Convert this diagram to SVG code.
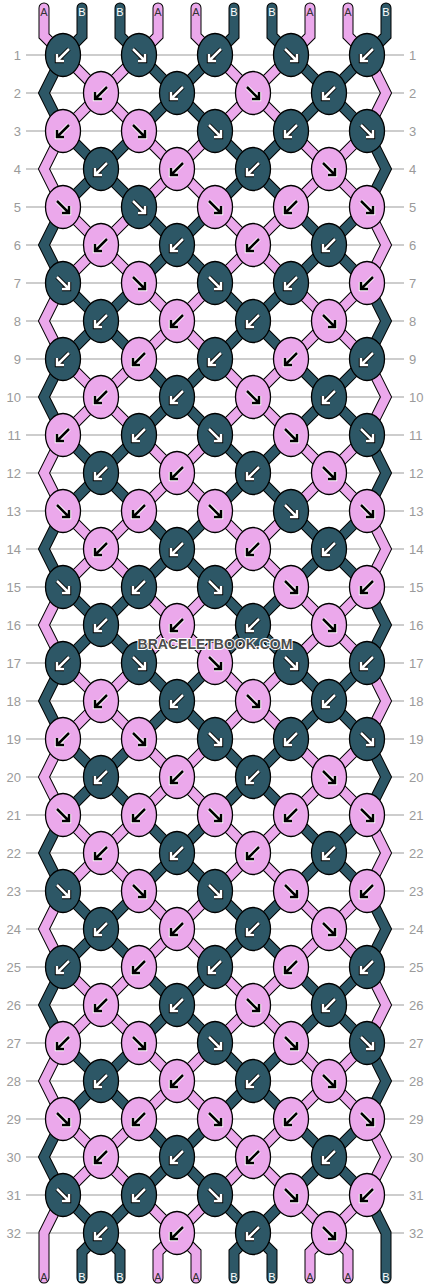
<svg xmlns="http://www.w3.org/2000/svg" xmlns:xlink="http://www.w3.org/1999/xlink" width="430" height="1288" viewBox="0 0 430 1288">
<style>
.grid line{stroke:#bdbdbd;stroke-width:1.5}
.num text{font-family:"Liberation Sans",Arial,sans-serif;font-size:13px;fill:#9a9a9a}
.num .l{text-anchor:end}
.num .r{text-anchor:start}
.th polyline{fill:none;stroke-linejoin:miter;stroke-linecap:round}
.th .o{stroke:#000;stroke-width:11}
.th .ta{stroke:#eba8eb;stroke-width:9}
.th .tb{stroke:#2d5766;stroke-width:9}
.knots ellipse{stroke:#000;stroke-width:1.3}
.d{fill:#2d5766}
.p{fill:#eba8eb}
.lab text{font-family:"Liberation Sans",Arial,sans-serif;font-size:11px;text-anchor:middle}
.lab .a{fill:#333}
.lab .b{fill:#fff}
.wm{font-family:"Liberation Sans",Arial,sans-serif;font-size:14px;font-weight:bold;fill:#4d4d4d;stroke:#fff;stroke-width:2;paint-order:stroke;text-anchor:middle}
</style>
<defs>
<g id="Lw" fill="none" stroke-linecap="butt" stroke-linejoin="miter"><path d="M6,-6 L-5,5 M-6,-1 V6 H1" stroke="#000" stroke-width="4.4"/><path d="M6,-6 L-5,5 M-6,-1 V6 H1" stroke="#fff" stroke-width="2.5"/></g>
<g id="Lk" fill="none" stroke-linecap="butt" stroke-linejoin="miter"><path d="M6,-6 L-5,5 M-6,-1 V6 H1" stroke="#fff" stroke-width="4.4"/><path d="M6,-6 L-5,5 M-6,-1 V6 H1" stroke="#000" stroke-width="2.5"/></g>
<g id="Rw" fill="none" stroke-linecap="butt" stroke-linejoin="miter"><path d="M-6,-6 L5,5 M6,-1 V6 H-1" stroke="#000" stroke-width="4.4"/><path d="M-6,-6 L5,5 M6,-1 V6 H-1" stroke="#fff" stroke-width="2.5"/></g>
<g id="Rk" fill="none" stroke-linecap="butt" stroke-linejoin="miter"><path d="M-6,-6 L5,5 M6,-1 V6 H-1" stroke="#fff" stroke-width="4.4"/><path d="M-6,-6 L5,5 M6,-1 V6 H-1" stroke="#000" stroke-width="2.5"/></g>
</defs>
<rect width="430" height="1288" fill="#fff"/>
<g class="grid">
<line x1="26" x2="404" y1="55" y2="55"/><line x1="26" x2="404" y1="93" y2="93"/><line x1="26" x2="404" y1="131" y2="131"/><line x1="26" x2="404" y1="169" y2="169"/><line x1="26" x2="404" y1="207" y2="207"/><line x1="26" x2="404" y1="245" y2="245"/><line x1="26" x2="404" y1="283" y2="283"/><line x1="26" x2="404" y1="321" y2="321"/><line x1="26" x2="404" y1="359" y2="359"/><line x1="26" x2="404" y1="397" y2="397"/><line x1="26" x2="404" y1="435" y2="435"/><line x1="26" x2="404" y1="473" y2="473"/><line x1="26" x2="404" y1="511" y2="511"/><line x1="26" x2="404" y1="549" y2="549"/><line x1="26" x2="404" y1="587" y2="587"/><line x1="26" x2="404" y1="625" y2="625"/><line x1="26" x2="404" y1="663" y2="663"/><line x1="26" x2="404" y1="701" y2="701"/><line x1="26" x2="404" y1="739" y2="739"/><line x1="26" x2="404" y1="777" y2="777"/><line x1="26" x2="404" y1="815" y2="815"/><line x1="26" x2="404" y1="853" y2="853"/><line x1="26" x2="404" y1="891" y2="891"/><line x1="26" x2="404" y1="929" y2="929"/><line x1="26" x2="404" y1="967" y2="967"/><line x1="26" x2="404" y1="1005" y2="1005"/><line x1="26" x2="404" y1="1043" y2="1043"/><line x1="26" x2="404" y1="1081" y2="1081"/><line x1="26" x2="404" y1="1119" y2="1119"/><line x1="26" x2="404" y1="1157" y2="1157"/><line x1="26" x2="404" y1="1195" y2="1195"/><line x1="26" x2="404" y1="1233" y2="1233"/>
</g>
<g class="num">
<text class="l" x="21" y="59.5">1</text><text class="r" x="409" y="59.5">1</text>
<text class="l" x="21" y="97.5">2</text><text class="r" x="409" y="97.5">2</text>
<text class="l" x="21" y="135.5">3</text><text class="r" x="409" y="135.5">3</text>
<text class="l" x="21" y="173.5">4</text><text class="r" x="409" y="173.5">4</text>
<text class="l" x="21" y="211.5">5</text><text class="r" x="409" y="211.5">5</text>
<text class="l" x="21" y="249.5">6</text><text class="r" x="409" y="249.5">6</text>
<text class="l" x="21" y="287.5">7</text><text class="r" x="409" y="287.5">7</text>
<text class="l" x="21" y="325.5">8</text><text class="r" x="409" y="325.5">8</text>
<text class="l" x="21" y="363.5">9</text><text class="r" x="409" y="363.5">9</text>
<text class="l" x="21" y="401.5">10</text><text class="r" x="409" y="401.5">10</text>
<text class="l" x="21" y="439.5">11</text><text class="r" x="409" y="439.5">11</text>
<text class="l" x="21" y="477.5">12</text><text class="r" x="409" y="477.5">12</text>
<text class="l" x="21" y="515.5">13</text><text class="r" x="409" y="515.5">13</text>
<text class="l" x="21" y="553.5">14</text><text class="r" x="409" y="553.5">14</text>
<text class="l" x="21" y="591.5">15</text><text class="r" x="409" y="591.5">15</text>
<text class="l" x="21" y="629.5">16</text><text class="r" x="409" y="629.5">16</text>
<text class="l" x="21" y="667.5">17</text><text class="r" x="409" y="667.5">17</text>
<text class="l" x="21" y="705.5">18</text><text class="r" x="409" y="705.5">18</text>
<text class="l" x="21" y="743.5">19</text><text class="r" x="409" y="743.5">19</text>
<text class="l" x="21" y="781.5">20</text><text class="r" x="409" y="781.5">20</text>
<text class="l" x="21" y="819.5">21</text><text class="r" x="409" y="819.5">21</text>
<text class="l" x="21" y="857.5">22</text><text class="r" x="409" y="857.5">22</text>
<text class="l" x="21" y="895.5">23</text><text class="r" x="409" y="895.5">23</text>
<text class="l" x="21" y="933.5">24</text><text class="r" x="409" y="933.5">24</text>
<text class="l" x="21" y="971.5">25</text><text class="r" x="409" y="971.5">25</text>
<text class="l" x="21" y="1009.5">26</text><text class="r" x="409" y="1009.5">26</text>
<text class="l" x="21" y="1047.5">27</text><text class="r" x="409" y="1047.5">27</text>
<text class="l" x="21" y="1085.5">28</text><text class="r" x="409" y="1085.5">28</text>
<text class="l" x="21" y="1123.5">29</text><text class="r" x="409" y="1123.5">29</text>
<text class="l" x="21" y="1161.5">30</text><text class="r" x="409" y="1161.5">30</text>
<text class="l" x="21" y="1199.5">31</text><text class="r" x="409" y="1199.5">31</text>
<text class="l" x="21" y="1237.5">32</text><text class="r" x="409" y="1237.5">32</text>
</g>
<g id="connectors" class="th">
<polyline class="o" points="44,8 44,36 367,359 386,397 367,435 63,739 44,777 63,815 367,1119 386,1157 367,1195 310,1252 310,1278"/>
<polyline class="o" points="82,8 82,36 63,55 44,93 63,131 367,435 386,473 367,511 63,815 44,853 63,891 367,1195 386,1233 386,1278"/>
<polyline class="o" points="120,8 120,36 367,283 386,321 367,359 63,663 44,701 63,739 367,1043 386,1081 367,1119 234,1252 234,1278"/>
<polyline class="o" points="158,8 158,36 63,131 44,169 63,207 367,511 386,549 367,587 63,891 44,929 63,967 348,1252 348,1278"/>
<polyline class="o" points="196,8 196,36 367,207 386,245 367,283 63,587 44,625 63,663 367,967 386,1005 367,1043 158,1252 158,1278"/>
<polyline class="o" points="234,8 234,36 63,207 44,245 63,283 367,587 386,625 367,663 63,967 44,1005 63,1043 272,1252 272,1278"/>
<polyline class="o" points="272,8 272,36 367,131 386,169 367,207 63,511 44,549 63,587 367,891 386,929 367,967 82,1252 82,1278"/>
<polyline class="o" points="310,8 310,36 63,283 44,321 63,359 367,663 386,701 367,739 63,1043 44,1081 63,1119 196,1252 196,1278"/>
<polyline class="o" points="348,8 348,36 367,55 386,93 367,131 63,435 44,473 63,511 367,815 386,853 367,891 63,1195 44,1233 44,1278"/>
<polyline class="o" points="386,8 386,36 63,359 44,397 63,435 367,739 386,777 367,815 63,1119 44,1157 63,1195 120,1252 120,1278"/>
<polyline class="ta" points="44,8 44,36 367,359 386,397 367,435 63,739 44,777 63,815 367,1119 386,1157 367,1195 310,1252 310,1278"/>
<polyline class="tb" points="82,8 82,36 63,55 44,93 63,131 367,435 386,473 367,511 63,815 44,853 63,891 367,1195 386,1233 386,1278"/>
<polyline class="tb" points="120,8 120,36 367,283 386,321 367,359 63,663 44,701 63,739 367,1043 386,1081 367,1119 234,1252 234,1278"/>
<polyline class="ta" points="158,8 158,36 63,131 44,169 63,207 367,511 386,549 367,587 63,891 44,929 63,967 348,1252 348,1278"/>
<polyline class="ta" points="196,8 196,36 367,207 386,245 367,283 63,587 44,625 63,663 367,967 386,1005 367,1043 158,1252 158,1278"/>
<polyline class="tb" points="234,8 234,36 63,207 44,245 63,283 367,587 386,625 367,663 63,967 44,1005 63,1043 272,1252 272,1278"/>
<polyline class="tb" points="272,8 272,36 367,131 386,169 367,207 63,511 44,549 63,587 367,891 386,929 367,967 82,1252 82,1278"/>
<polyline class="ta" points="310,8 310,36 63,283 44,321 63,359 367,663 386,701 367,739 63,1043 44,1081 63,1119 196,1252 196,1278"/>
<polyline class="ta" points="348,8 348,36 367,55 386,93 367,131 63,435 44,473 63,511 367,815 386,853 367,891 63,1195 44,1233 44,1278"/>
<polyline class="tb" points="386,8 386,36 63,359 44,397 63,435 367,739 386,777 367,815 63,1119 44,1157 63,1195 120,1252 120,1278"/>
</g>
<g class="lab">
<text class="a" x="44" y="16">A</text><text class="b" x="82" y="16">B</text><text class="b" x="120" y="16">B</text><text class="a" x="158" y="16">A</text><text class="a" x="196" y="16">A</text><text class="b" x="234" y="16">B</text><text class="b" x="272" y="16">B</text><text class="a" x="310" y="16">A</text><text class="a" x="348" y="16">A</text><text class="b" x="386" y="16">B</text>
<text class="a" x="44" y="1281">A</text><text class="b" x="82" y="1281">B</text><text class="b" x="120" y="1281">B</text><text class="a" x="158" y="1281">A</text><text class="a" x="196" y="1281">A</text><text class="b" x="234" y="1281">B</text><text class="b" x="272" y="1281">B</text><text class="a" x="310" y="1281">A</text><text class="a" x="348" y="1281">A</text><text class="b" x="386" y="1281">B</text>
</g>
<g class="knots">
<g id="k1_1"><ellipse class="d" cx="63" cy="55" rx="17.5" ry="21.5"/><use href="#Lw" x="63" y="55"/></g>
<g id="k1_2"><ellipse class="d" cx="139" cy="55" rx="17.5" ry="21.5"/><use href="#Rw" x="139" y="55"/></g>
<g id="k1_3"><ellipse class="d" cx="215" cy="55" rx="17.5" ry="21.5"/><use href="#Lw" x="215" y="55"/></g>
<g id="k1_4"><ellipse class="d" cx="291" cy="55" rx="17.5" ry="21.5"/><use href="#Rw" x="291" y="55"/></g>
<g id="k1_5"><ellipse class="d" cx="367" cy="55" rx="17.5" ry="21.5"/><use href="#Lw" x="367" y="55"/></g>
<g id="k2_1"><ellipse class="p" cx="101" cy="93" rx="17.5" ry="21.5"/><use href="#Lk" x="101" y="93"/></g>
<g id="k2_2"><ellipse class="d" cx="177" cy="93" rx="17.5" ry="21.5"/><use href="#Lw" x="177" y="93"/></g>
<g id="k2_3"><ellipse class="p" cx="253" cy="93" rx="17.5" ry="21.5"/><use href="#Rk" x="253" y="93"/></g>
<g id="k2_4"><ellipse class="d" cx="329" cy="93" rx="17.5" ry="21.5"/><use href="#Lw" x="329" y="93"/></g>
<g id="k3_1"><ellipse class="p" cx="63" cy="131" rx="17.5" ry="21.5"/><use href="#Lk" x="63" y="131"/></g>
<g id="k3_2"><ellipse class="p" cx="139" cy="131" rx="17.5" ry="21.5"/><use href="#Rk" x="139" y="131"/></g>
<g id="k3_3"><ellipse class="d" cx="215" cy="131" rx="17.5" ry="21.5"/><use href="#Rw" x="215" y="131"/></g>
<g id="k3_4"><ellipse class="d" cx="291" cy="131" rx="17.5" ry="21.5"/><use href="#Lw" x="291" y="131"/></g>
<g id="k3_5"><ellipse class="d" cx="367" cy="131" rx="17.5" ry="21.5"/><use href="#Rw" x="367" y="131"/></g>
<g id="k4_1"><ellipse class="d" cx="101" cy="169" rx="17.5" ry="21.5"/><use href="#Lw" x="101" y="169"/></g>
<g id="k4_2"><ellipse class="p" cx="177" cy="169" rx="17.5" ry="21.5"/><use href="#Lk" x="177" y="169"/></g>
<g id="k4_3"><ellipse class="d" cx="253" cy="169" rx="17.5" ry="21.5"/><use href="#Lw" x="253" y="169"/></g>
<g id="k4_4"><ellipse class="p" cx="329" cy="169" rx="17.5" ry="21.5"/><use href="#Rk" x="329" y="169"/></g>
<g id="k5_1"><ellipse class="p" cx="63" cy="207" rx="17.5" ry="21.5"/><use href="#Rk" x="63" y="207"/></g>
<g id="k5_2"><ellipse class="d" cx="139" cy="207" rx="17.5" ry="21.5"/><use href="#Rw" x="139" y="207"/></g>
<g id="k5_3"><ellipse class="p" cx="215" cy="207" rx="17.5" ry="21.5"/><use href="#Rk" x="215" y="207"/></g>
<g id="k5_4"><ellipse class="p" cx="291" cy="207" rx="17.5" ry="21.5"/><use href="#Lk" x="291" y="207"/></g>
<g id="k5_5"><ellipse class="p" cx="367" cy="207" rx="17.5" ry="21.5"/><use href="#Rk" x="367" y="207"/></g>
<g id="k6_1"><ellipse class="p" cx="101" cy="245" rx="17.5" ry="21.5"/><use href="#Lk" x="101" y="245"/></g>
<g id="k6_2"><ellipse class="d" cx="177" cy="245" rx="17.5" ry="21.5"/><use href="#Lw" x="177" y="245"/></g>
<g id="k6_3"><ellipse class="p" cx="253" cy="245" rx="17.5" ry="21.5"/><use href="#Lk" x="253" y="245"/></g>
<g id="k6_4"><ellipse class="d" cx="329" cy="245" rx="17.5" ry="21.5"/><use href="#Lw" x="329" y="245"/></g>
<g id="k7_1"><ellipse class="d" cx="63" cy="283" rx="17.5" ry="21.5"/><use href="#Rw" x="63" y="283"/></g>
<g id="k7_2"><ellipse class="p" cx="139" cy="283" rx="17.5" ry="21.5"/><use href="#Rk" x="139" y="283"/></g>
<g id="k7_3"><ellipse class="d" cx="215" cy="283" rx="17.5" ry="21.5"/><use href="#Rw" x="215" y="283"/></g>
<g id="k7_4"><ellipse class="d" cx="291" cy="283" rx="17.5" ry="21.5"/><use href="#Lw" x="291" y="283"/></g>
<g id="k7_5"><ellipse class="p" cx="367" cy="283" rx="17.5" ry="21.5"/><use href="#Lk" x="367" y="283"/></g>
<g id="k8_1"><ellipse class="d" cx="101" cy="321" rx="17.5" ry="21.5"/><use href="#Lw" x="101" y="321"/></g>
<g id="k8_2"><ellipse class="p" cx="177" cy="321" rx="17.5" ry="21.5"/><use href="#Lk" x="177" y="321"/></g>
<g id="k8_3"><ellipse class="d" cx="253" cy="321" rx="17.5" ry="21.5"/><use href="#Lw" x="253" y="321"/></g>
<g id="k8_4"><ellipse class="p" cx="329" cy="321" rx="17.5" ry="21.5"/><use href="#Rk" x="329" y="321"/></g>
<g id="k9_1"><ellipse class="d" cx="63" cy="359" rx="17.5" ry="21.5"/><use href="#Lw" x="63" y="359"/></g>
<g id="k9_2"><ellipse class="p" cx="139" cy="359" rx="17.5" ry="21.5"/><use href="#Lk" x="139" y="359"/></g>
<g id="k9_3"><ellipse class="d" cx="215" cy="359" rx="17.5" ry="21.5"/><use href="#Lw" x="215" y="359"/></g>
<g id="k9_4"><ellipse class="p" cx="291" cy="359" rx="17.5" ry="21.5"/><use href="#Lk" x="291" y="359"/></g>
<g id="k9_5"><ellipse class="d" cx="367" cy="359" rx="17.5" ry="21.5"/><use href="#Lw" x="367" y="359"/></g>
<g id="k10_1"><ellipse class="p" cx="101" cy="397" rx="17.5" ry="21.5"/><use href="#Lk" x="101" y="397"/></g>
<g id="k10_2"><ellipse class="d" cx="177" cy="397" rx="17.5" ry="21.5"/><use href="#Lw" x="177" y="397"/></g>
<g id="k10_3"><ellipse class="p" cx="253" cy="397" rx="17.5" ry="21.5"/><use href="#Rk" x="253" y="397"/></g>
<g id="k10_4"><ellipse class="d" cx="329" cy="397" rx="17.5" ry="21.5"/><use href="#Lw" x="329" y="397"/></g>
<g id="k11_1"><ellipse class="p" cx="63" cy="435" rx="17.5" ry="21.5"/><use href="#Lk" x="63" y="435"/></g>
<g id="k11_2"><ellipse class="d" cx="139" cy="435" rx="17.5" ry="21.5"/><use href="#Lw" x="139" y="435"/></g>
<g id="k11_3"><ellipse class="d" cx="215" cy="435" rx="17.5" ry="21.5"/><use href="#Rw" x="215" y="435"/></g>
<g id="k11_4"><ellipse class="p" cx="291" cy="435" rx="17.5" ry="21.5"/><use href="#Rk" x="291" y="435"/></g>
<g id="k11_5"><ellipse class="d" cx="367" cy="435" rx="17.5" ry="21.5"/><use href="#Rw" x="367" y="435"/></g>
<g id="k12_1"><ellipse class="d" cx="101" cy="473" rx="17.5" ry="21.5"/><use href="#Lw" x="101" y="473"/></g>
<g id="k12_2"><ellipse class="p" cx="177" cy="473" rx="17.5" ry="21.5"/><use href="#Lk" x="177" y="473"/></g>
<g id="k12_3"><ellipse class="d" cx="253" cy="473" rx="17.5" ry="21.5"/><use href="#Lw" x="253" y="473"/></g>
<g id="k12_4"><ellipse class="p" cx="329" cy="473" rx="17.5" ry="21.5"/><use href="#Rk" x="329" y="473"/></g>
<g id="k13_1"><ellipse class="p" cx="63" cy="511" rx="17.5" ry="21.5"/><use href="#Rk" x="63" y="511"/></g>
<g id="k13_2"><ellipse class="p" cx="139" cy="511" rx="17.5" ry="21.5"/><use href="#Lk" x="139" y="511"/></g>
<g id="k13_3"><ellipse class="p" cx="215" cy="511" rx="17.5" ry="21.5"/><use href="#Rk" x="215" y="511"/></g>
<g id="k13_4"><ellipse class="d" cx="291" cy="511" rx="17.5" ry="21.5"/><use href="#Rw" x="291" y="511"/></g>
<g id="k13_5"><ellipse class="p" cx="367" cy="511" rx="17.5" ry="21.5"/><use href="#Rk" x="367" y="511"/></g>
<g id="k14_1"><ellipse class="p" cx="101" cy="549" rx="17.5" ry="21.5"/><use href="#Lk" x="101" y="549"/></g>
<g id="k14_2"><ellipse class="d" cx="177" cy="549" rx="17.5" ry="21.5"/><use href="#Lw" x="177" y="549"/></g>
<g id="k14_3"><ellipse class="p" cx="253" cy="549" rx="17.5" ry="21.5"/><use href="#Lk" x="253" y="549"/></g>
<g id="k14_4"><ellipse class="d" cx="329" cy="549" rx="17.5" ry="21.5"/><use href="#Lw" x="329" y="549"/></g>
<g id="k15_1"><ellipse class="d" cx="63" cy="587" rx="17.5" ry="21.5"/><use href="#Rw" x="63" y="587"/></g>
<g id="k15_2"><ellipse class="d" cx="139" cy="587" rx="17.5" ry="21.5"/><use href="#Lw" x="139" y="587"/></g>
<g id="k15_3"><ellipse class="d" cx="215" cy="587" rx="17.5" ry="21.5"/><use href="#Rw" x="215" y="587"/></g>
<g id="k15_4"><ellipse class="p" cx="291" cy="587" rx="17.5" ry="21.5"/><use href="#Rk" x="291" y="587"/></g>
<g id="k15_5"><ellipse class="p" cx="367" cy="587" rx="17.5" ry="21.5"/><use href="#Lk" x="367" y="587"/></g>
<g id="k16_1"><ellipse class="d" cx="101" cy="625" rx="17.5" ry="21.5"/><use href="#Lw" x="101" y="625"/></g>
<g id="k16_2"><ellipse class="p" cx="177" cy="625" rx="17.5" ry="21.5"/><use href="#Lk" x="177" y="625"/></g>
<g id="k16_3"><ellipse class="d" cx="253" cy="625" rx="17.5" ry="21.5"/><use href="#Lw" x="253" y="625"/></g>
<g id="k16_4"><ellipse class="p" cx="329" cy="625" rx="17.5" ry="21.5"/><use href="#Rk" x="329" y="625"/></g>
<g id="k17_1"><ellipse class="d" cx="63" cy="663" rx="17.5" ry="21.5"/><use href="#Lw" x="63" y="663"/></g>
<g id="k17_2"><ellipse class="d" cx="139" cy="663" rx="17.5" ry="21.5"/><use href="#Rw" x="139" y="663"/></g>
<g id="k17_3"><ellipse class="p" cx="215" cy="663" rx="17.5" ry="21.5"/><use href="#Rk" x="215" y="663"/></g>
<g id="k17_4"><ellipse class="d" cx="291" cy="663" rx="17.5" ry="21.5"/><use href="#Rw" x="291" y="663"/></g>
<g id="k17_5"><ellipse class="d" cx="367" cy="663" rx="17.5" ry="21.5"/><use href="#Lw" x="367" y="663"/></g>
<g id="k18_1"><ellipse class="p" cx="101" cy="701" rx="17.5" ry="21.5"/><use href="#Lk" x="101" y="701"/></g>
<g id="k18_2"><ellipse class="d" cx="177" cy="701" rx="17.5" ry="21.5"/><use href="#Lw" x="177" y="701"/></g>
<g id="k18_3"><ellipse class="p" cx="253" cy="701" rx="17.5" ry="21.5"/><use href="#Rk" x="253" y="701"/></g>
<g id="k18_4"><ellipse class="d" cx="329" cy="701" rx="17.5" ry="21.5"/><use href="#Lw" x="329" y="701"/></g>
<g id="k19_1"><ellipse class="p" cx="63" cy="739" rx="17.5" ry="21.5"/><use href="#Lk" x="63" y="739"/></g>
<g id="k19_2"><ellipse class="p" cx="139" cy="739" rx="17.5" ry="21.5"/><use href="#Rk" x="139" y="739"/></g>
<g id="k19_3"><ellipse class="d" cx="215" cy="739" rx="17.5" ry="21.5"/><use href="#Rw" x="215" y="739"/></g>
<g id="k19_4"><ellipse class="d" cx="291" cy="739" rx="17.5" ry="21.5"/><use href="#Lw" x="291" y="739"/></g>
<g id="k19_5"><ellipse class="d" cx="367" cy="739" rx="17.5" ry="21.5"/><use href="#Rw" x="367" y="739"/></g>
<g id="k20_1"><ellipse class="d" cx="101" cy="777" rx="17.5" ry="21.5"/><use href="#Lw" x="101" y="777"/></g>
<g id="k20_2"><ellipse class="p" cx="177" cy="777" rx="17.5" ry="21.5"/><use href="#Lk" x="177" y="777"/></g>
<g id="k20_3"><ellipse class="d" cx="253" cy="777" rx="17.5" ry="21.5"/><use href="#Lw" x="253" y="777"/></g>
<g id="k20_4"><ellipse class="p" cx="329" cy="777" rx="17.5" ry="21.5"/><use href="#Rk" x="329" y="777"/></g>
<g id="k21_1"><ellipse class="p" cx="63" cy="815" rx="17.5" ry="21.5"/><use href="#Rk" x="63" y="815"/></g>
<g id="k21_2"><ellipse class="p" cx="139" cy="815" rx="17.5" ry="21.5"/><use href="#Lk" x="139" y="815"/></g>
<g id="k21_3"><ellipse class="p" cx="215" cy="815" rx="17.5" ry="21.5"/><use href="#Rk" x="215" y="815"/></g>
<g id="k21_4"><ellipse class="p" cx="291" cy="815" rx="17.5" ry="21.5"/><use href="#Lk" x="291" y="815"/></g>
<g id="k21_5"><ellipse class="p" cx="367" cy="815" rx="17.5" ry="21.5"/><use href="#Rk" x="367" y="815"/></g>
<g id="k22_1"><ellipse class="p" cx="101" cy="853" rx="17.5" ry="21.5"/><use href="#Lk" x="101" y="853"/></g>
<g id="k22_2"><ellipse class="d" cx="177" cy="853" rx="17.5" ry="21.5"/><use href="#Lw" x="177" y="853"/></g>
<g id="k22_3"><ellipse class="p" cx="253" cy="853" rx="17.5" ry="21.5"/><use href="#Lk" x="253" y="853"/></g>
<g id="k22_4"><ellipse class="d" cx="329" cy="853" rx="17.5" ry="21.5"/><use href="#Lw" x="329" y="853"/></g>
<g id="k23_1"><ellipse class="d" cx="63" cy="891" rx="17.5" ry="21.5"/><use href="#Rw" x="63" y="891"/></g>
<g id="k23_2"><ellipse class="p" cx="139" cy="891" rx="17.5" ry="21.5"/><use href="#Rk" x="139" y="891"/></g>
<g id="k23_3"><ellipse class="d" cx="215" cy="891" rx="17.5" ry="21.5"/><use href="#Rw" x="215" y="891"/></g>
<g id="k23_4"><ellipse class="p" cx="291" cy="891" rx="17.5" ry="21.5"/><use href="#Rk" x="291" y="891"/></g>
<g id="k23_5"><ellipse class="p" cx="367" cy="891" rx="17.5" ry="21.5"/><use href="#Lk" x="367" y="891"/></g>
<g id="k24_1"><ellipse class="d" cx="101" cy="929" rx="17.5" ry="21.5"/><use href="#Lw" x="101" y="929"/></g>
<g id="k24_2"><ellipse class="p" cx="177" cy="929" rx="17.5" ry="21.5"/><use href="#Lk" x="177" y="929"/></g>
<g id="k24_3"><ellipse class="d" cx="253" cy="929" rx="17.5" ry="21.5"/><use href="#Lw" x="253" y="929"/></g>
<g id="k24_4"><ellipse class="p" cx="329" cy="929" rx="17.5" ry="21.5"/><use href="#Rk" x="329" y="929"/></g>
<g id="k25_1"><ellipse class="d" cx="63" cy="967" rx="17.5" ry="21.5"/><use href="#Lw" x="63" y="967"/></g>
<g id="k25_2"><ellipse class="p" cx="139" cy="967" rx="17.5" ry="21.5"/><use href="#Lk" x="139" y="967"/></g>
<g id="k25_3"><ellipse class="d" cx="215" cy="967" rx="17.5" ry="21.5"/><use href="#Lw" x="215" y="967"/></g>
<g id="k25_4"><ellipse class="p" cx="291" cy="967" rx="17.5" ry="21.5"/><use href="#Lk" x="291" y="967"/></g>
<g id="k25_5"><ellipse class="d" cx="367" cy="967" rx="17.5" ry="21.5"/><use href="#Lw" x="367" y="967"/></g>
<g id="k26_1"><ellipse class="p" cx="101" cy="1005" rx="17.5" ry="21.5"/><use href="#Lk" x="101" y="1005"/></g>
<g id="k26_2"><ellipse class="d" cx="177" cy="1005" rx="17.5" ry="21.5"/><use href="#Lw" x="177" y="1005"/></g>
<g id="k26_3"><ellipse class="p" cx="253" cy="1005" rx="17.5" ry="21.5"/><use href="#Rk" x="253" y="1005"/></g>
<g id="k26_4"><ellipse class="d" cx="329" cy="1005" rx="17.5" ry="21.5"/><use href="#Lw" x="329" y="1005"/></g>
<g id="k27_1"><ellipse class="p" cx="63" cy="1043" rx="17.5" ry="21.5"/><use href="#Lk" x="63" y="1043"/></g>
<g id="k27_2"><ellipse class="p" cx="139" cy="1043" rx="17.5" ry="21.5"/><use href="#Rk" x="139" y="1043"/></g>
<g id="k27_3"><ellipse class="d" cx="215" cy="1043" rx="17.5" ry="21.5"/><use href="#Rw" x="215" y="1043"/></g>
<g id="k27_4"><ellipse class="p" cx="291" cy="1043" rx="17.5" ry="21.5"/><use href="#Rk" x="291" y="1043"/></g>
<g id="k27_5"><ellipse class="d" cx="367" cy="1043" rx="17.5" ry="21.5"/><use href="#Rw" x="367" y="1043"/></g>
<g id="k28_1"><ellipse class="d" cx="101" cy="1081" rx="17.5" ry="21.5"/><use href="#Lw" x="101" y="1081"/></g>
<g id="k28_2"><ellipse class="p" cx="177" cy="1081" rx="17.5" ry="21.5"/><use href="#Lk" x="177" y="1081"/></g>
<g id="k28_3"><ellipse class="d" cx="253" cy="1081" rx="17.5" ry="21.5"/><use href="#Lw" x="253" y="1081"/></g>
<g id="k28_4"><ellipse class="p" cx="329" cy="1081" rx="17.5" ry="21.5"/><use href="#Rk" x="329" y="1081"/></g>
<g id="k29_1"><ellipse class="p" cx="63" cy="1119" rx="17.5" ry="21.5"/><use href="#Rk" x="63" y="1119"/></g>
<g id="k29_2"><ellipse class="p" cx="139" cy="1119" rx="17.5" ry="21.5"/><use href="#Lk" x="139" y="1119"/></g>
<g id="k29_3"><ellipse class="p" cx="215" cy="1119" rx="17.5" ry="21.5"/><use href="#Rk" x="215" y="1119"/></g>
<g id="k29_4"><ellipse class="p" cx="291" cy="1119" rx="17.5" ry="21.5"/><use href="#Lk" x="291" y="1119"/></g>
<g id="k29_5"><ellipse class="p" cx="367" cy="1119" rx="17.5" ry="21.5"/><use href="#Rk" x="367" y="1119"/></g>
<g id="k30_1"><ellipse class="p" cx="101" cy="1157" rx="17.5" ry="21.5"/><use href="#Lk" x="101" y="1157"/></g>
<g id="k30_2"><ellipse class="d" cx="177" cy="1157" rx="17.5" ry="21.5"/><use href="#Lw" x="177" y="1157"/></g>
<g id="k30_3"><ellipse class="p" cx="253" cy="1157" rx="17.5" ry="21.5"/><use href="#Lk" x="253" y="1157"/></g>
<g id="k30_4"><ellipse class="d" cx="329" cy="1157" rx="17.5" ry="21.5"/><use href="#Lw" x="329" y="1157"/></g>
<g id="k31_1"><ellipse class="d" cx="63" cy="1195" rx="17.5" ry="21.5"/><use href="#Rw" x="63" y="1195"/></g>
<g id="k31_2"><ellipse class="d" cx="139" cy="1195" rx="17.5" ry="21.5"/><use href="#Lw" x="139" y="1195"/></g>
<g id="k31_3"><ellipse class="d" cx="215" cy="1195" rx="17.5" ry="21.5"/><use href="#Rw" x="215" y="1195"/></g>
<g id="k31_4"><ellipse class="p" cx="291" cy="1195" rx="17.5" ry="21.5"/><use href="#Rk" x="291" y="1195"/></g>
<g id="k31_5"><ellipse class="p" cx="367" cy="1195" rx="17.5" ry="21.5"/><use href="#Lk" x="367" y="1195"/></g>
<g id="k32_1"><ellipse class="d" cx="101" cy="1233" rx="17.5" ry="21.5"/><use href="#Lw" x="101" y="1233"/></g>
<g id="k32_2"><ellipse class="p" cx="177" cy="1233" rx="17.5" ry="21.5"/><use href="#Lk" x="177" y="1233"/></g>
<g id="k32_3"><ellipse class="d" cx="253" cy="1233" rx="17.5" ry="21.5"/><use href="#Lw" x="253" y="1233"/></g>
<g id="k32_4"><ellipse class="p" cx="329" cy="1233" rx="17.5" ry="21.5"/><use href="#Rk" x="329" y="1233"/></g>
</g>
<text class="wm" x="215" y="649">BRACELETBOOK.COM</text>
</svg>
